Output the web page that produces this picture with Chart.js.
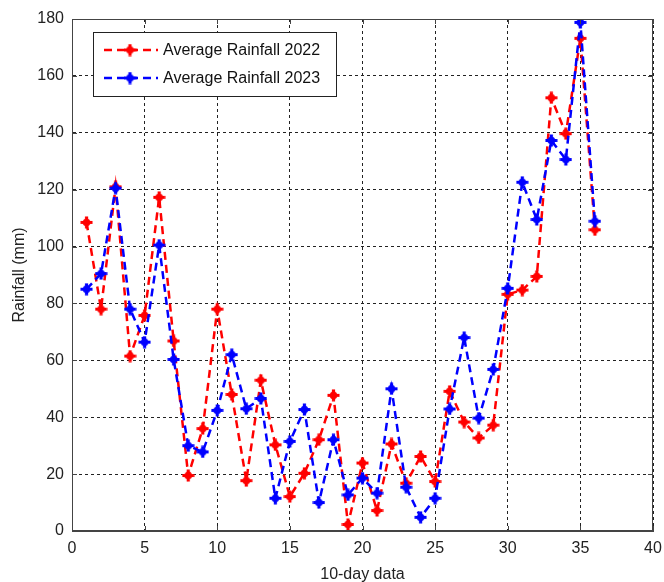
<!DOCTYPE html>
<html>
<head>
<meta charset="utf-8">
<title>Average Rainfall</title>
<script src="https://cdn.jsdelivr.net/npm/chart.js@4/dist/chart.umd.min.js"></script>
<style>
  html, body { margin: 0; padding: 0; background: #fff; }
  #wrap { width: 664px; height: 582px; }
</style>
</head>
<body>
<div id="wrap"><canvas id="rain"></canvas></div>
<script>
// 10-day periods
const periods = [1,2,3,4,5,6,7,8,9,10,11,12,13,14,15,16,17,18,19,20,21,22,23,24,25,26,27,28,29,30,31,32,33,34,35,36];

const rain2022 = [108.5,78,121,61.5,75.8,117.3,66.8,19.5,36,78,48,17.7,53,30.3,12.1,20.3,32.1,47.7,2.3,23.9,7.2,30.6,16.8,26.2,17.4,49.1,38.3,32.7,37.2,83.2,84.7,89.5,152.3,139.7,173.2,105.9];
const rain2023 = [85,90.5,120.5,78,66.4,100.5,60.3,30,27.8,42.4,62,43,46.6,11.5,31.5,42.7,10,32.1,12.7,18.6,13.3,50,15.4,4.8,11.5,42.9,68,39.7,56.8,85.3,122.6,109.5,137.3,130.6,178.8,108.9];

const xTicks = [0,5,10,15,20,25,30,35,40];
const yTicks = [0,20,40,60,80,100,120,140,160,180];

const labels = ["Average Rainfall 2022", "Average Rainfall 2023"];
const colors = ["#ff0000", "#0000ff"];

// thick "*" like marker
function makeMarker(color) {
  const c = document.createElement("canvas");
  c.width = 13; c.height = 13;
  const g = c.getContext("2d");
  g.strokeStyle = color; g.fillStyle = color;
  g.lineWidth = 3.2;
  g.beginPath();
  g.moveTo(0.5, 6.5); g.lineTo(12.5, 6.5);
  g.moveTo(6.5, 0.5); g.lineTo(6.5, 12.5);
  g.stroke();
  g.beginPath(); g.arc(6.5, 6.5, 3.8, 0, Math.PI * 2); g.fill();
  return c;
}
const markers = colors.map(makeMarker);

// frame, inner ticks and legend box
const framePlugin = {
  id: "frame",
  afterDraw(chart) {
    const { ctx, chartArea: a, scales } = chart;
    ctx.save();
    ctx.strokeStyle = "#444";
    ctx.lineWidth = 1;
    ctx.strokeRect(a.left + 0.5, a.top + 0.5, a.right - a.left - 1, a.bottom - a.top - 1);
    ctx.beginPath();
    xTicks.forEach(v => {
      const px = Math.round(scales.x.getPixelForValue(v)) + 0.5;
      ctx.moveTo(px, a.bottom); ctx.lineTo(px, a.bottom - 5);
      ctx.moveTo(px, a.top); ctx.lineTo(px, a.top + 5);
    });
    yTicks.forEach(v => {
      const py = Math.round(scales.y.getPixelForValue(v)) + 0.5;
      ctx.moveTo(a.left, py); ctx.lineTo(a.left + 5, py);
      ctx.moveTo(a.right, py); ctx.lineTo(a.right - 5, py);
    });
    ctx.stroke();

    // legend
    const bx = 93.5, by = 32.5, bw = 243, bh = 64;
    ctx.fillStyle = "#fff";
    ctx.fillRect(bx, by, bw, bh);
    ctx.strokeStyle = "#222";
    ctx.strokeRect(bx, by, bw, bh);
    ctx.font = "16px 'Liberation Sans', Arial, sans-serif";
    ctx.textBaseline = "middle";
    [50, 78].forEach((ly, i) => {
      ctx.strokeStyle = colors[i];
      ctx.lineWidth = 2.5;
      ctx.setLineDash([8, 5]);
      ctx.beginPath(); ctx.moveTo(104, ly); ctx.lineTo(158, ly); ctx.stroke();
      ctx.setLineDash([]);
      ctx.drawImage(markers[i], 130 - 6.5, ly - 6.5);
      ctx.fillStyle = "#111";
      ctx.fillText(labels[i], 163, ly + 1);
    });
    ctx.restore();
  }
};

const font = { family: "'Liberation Sans', Arial, sans-serif", size: 16 };

new Chart(document.getElementById("rain"), {
  type: "line",
  data: {
    datasets: [rain2022, rain2023].map((vals, i) => ({
      label: labels[i],
      data: periods.map((p, k) => ({ x: p, y: vals[k] })),
      borderColor: colors[i],
      backgroundColor: colors[i],
      borderWidth: 2.5,
      borderDash: [8, 5],
      pointStyle: markers[i],
      pointRadius: 6,
      tension: 0,
      order: 1 - i
    }))
  },
  options: {
    responsive: true,
    maintainAspectRatio: false,
    animation: false,
    layout: { padding: { top: 19, right: 11, left: 0, bottom: 0 } },
    plugins: { legend: { display: false }, tooltip: { enabled: false } },
    scales: {
      x: {
        type: "linear",
        min: 0, max: 40,
        afterBuildTicks: s => { s.ticks = xTicks.map(v => ({ value: v })); },
        afterFit: s => { s.height = 51; s.paddingRight = 0; s.paddingLeft = 0; },
        ticks: { font, color: "#222", padding: 8 },
        grid: { color: "#222", lineWidth: 1, drawTicks: false },
        border: { display: true, color: "#444", dash: [3, 3] },
        title: { display: true, text: "10-day data", font, color: "#222", padding: { top: 0, bottom: -2 } }
      },
      y: {
        min: 0, max: 180,
        afterBuildTicks: s => { s.ticks = yTicks.map(v => ({ value: v })); },
        afterFit: s => { s.width = 72; s.paddingTop = 0; s.paddingBottom = 0; },
        ticks: { font, color: "#222", padding: 8 },
        grid: { color: "#222", lineWidth: 1, drawTicks: false },
        border: { display: true, color: "#444", dash: [3, 3] },
        title: { display: true, text: "Rainfall (mm)", font, color: "#222", padding: { top: 10, bottom: 0 } }
      }
    }
  },
  plugins: [framePlugin]
});
</script>
</body>
</html>
